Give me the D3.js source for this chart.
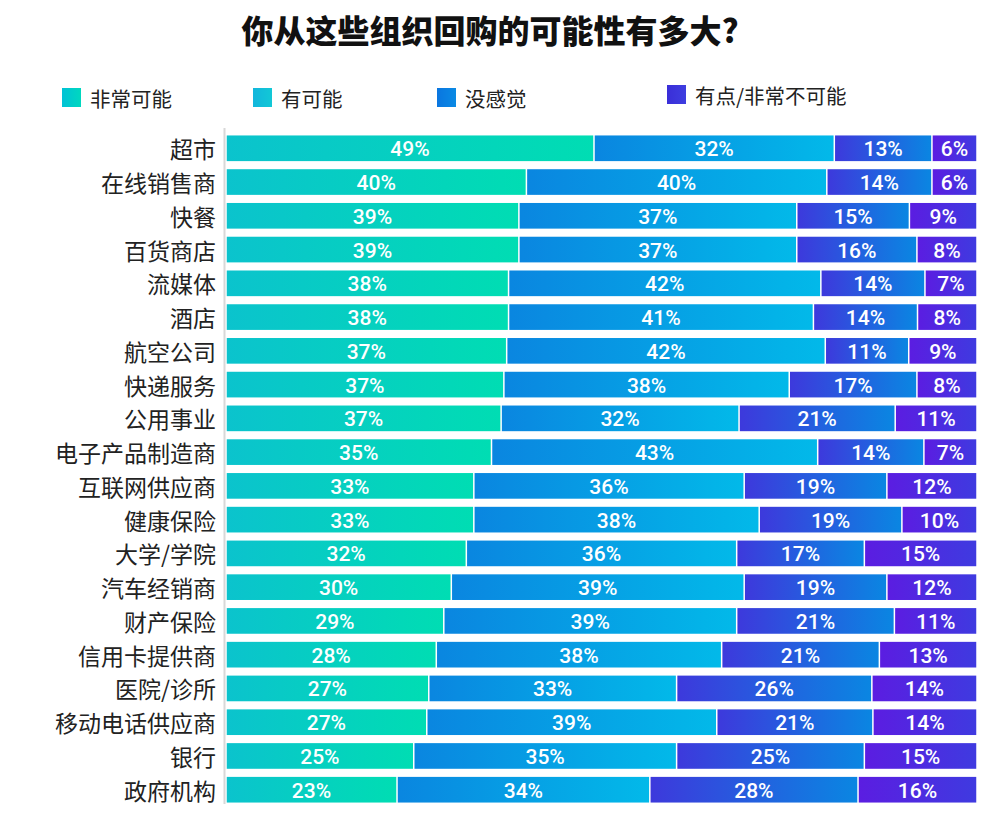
<!DOCTYPE html>
<html>
<head>
<meta charset="utf-8">
<script src="https://cdn.jsdelivr.net/npm/d3@7"></script>
<style>
  html, body { margin: 0; padding: 0; background: #fff; }
  svg { display: block; }
</style>
</head>
<body>
<svg id="chart" width="1000" height="828"></svg>
<script>
const title = "你从这些组织回购的可能性有多大?";
const seriesNames = ["非常可能", "有可能", "没感觉", "有点/非常不可能"];
const categories = ["超市","在线销售商","快餐","百货商店","流媒体","酒店","航空公司","快递服务","公用事业","电子产品制造商","互联网供应商","健康保险","大学/学院","汽车经销商","财产保险","信用卡提供商","医院/诊所","移动电话供应商","银行","政府机构"];
const veryLikely   = [49,40,39,39,38,38,37,37,37,35,33,33,32,30,29,28,27,27,25,23];
const likely       = [32,40,37,37,42,41,42,38,32,43,36,38,36,39,39,38,33,39,35,34];
const neutral      = [13,14,15,16,14,14,11,17,21,14,19,19,17,19,21,21,26,21,25,28];
const unlikely     = [6,6,9,8,7,8,9,8,11,7,12,10,15,12,11,13,14,14,15,16];

const gradStops = [["#0bc3cd","#00ddb3"],["#0a86e0","#02b9e9"],["#3d39dc","#0a86e2"],["#5b1de1","#3f3ae0"]];
const legendStops = [["#00c2d6","#00d8bf"],["#12b6dc","#12c8d6"],["#0a76e0","#0a8ae4"],["#3a2ed8","#3e3ee0"]];

const data = categories.map((c, i) => ({
  cat: c, s0: veryLikely[i], s1: likely[i], s2: neutral[i], s3: unlikely[i]
}));
const keys = ["s0","s1","s2","s3"];
const stacked = d3.stack().keys(keys).offset(d3.stackOffsetExpand)(data);

const svg = d3.select("#chart");
const defs = svg.append("defs");
gradStops.forEach((s, i) => {
  const g = defs.append("linearGradient").attr("id", "g" + i).attr("x1", 0).attr("x2", 1).attr("y1", 0).attr("y2", 0);
  g.append("stop").attr("offset", "0%").attr("stop-color", s[0]);
  g.append("stop").attr("offset", "100%").attr("stop-color", s[1]);
});
legendStops.forEach((s, i) => {
  const g = defs.append("linearGradient").attr("id", "lg" + i).attr("x1", 0).attr("x2", 1).attr("y1", 0).attr("y2", 0);
  g.append("stop").attr("offset", "0%").attr("stop-color", s[0]);
  g.append("stop").attr("offset", "100%").attr("stop-color", s[1]);
});

const x = d3.scaleLinear().domain([0, 1]).range([226, 977]);
const y = d3.scaleBand().domain(categories).range([131.4, 806.6]).paddingInner(0.24).paddingOuter(0.12);

// title
svg.append("text").attr("x", 490).attr("y", 29)
  .attr("text-anchor", "middle").attr("dominant-baseline", "central")
  .style("font-family", "'Noto Sans CJK SC', sans-serif").style("font-weight", 900)
  .style("font-size", "32px").style("fill", "#111").text(title);

// legend
const legendX = [62, 253, 437, 667];
const legendY = [88, 88, 88, 85];
const lg = svg.append("g");
seriesNames.forEach((n, i) => {
  lg.append("rect").attr("x", legendX[i]).attr("y", legendY[i]).attr("width", 19).attr("height", 19)
    .attr("fill", `url(#lg${i})`);
  lg.append("text").attr("x", legendX[i] + 28).attr("y", legendY[i] + 10)
    .attr("dominant-baseline", "central")
    .style("font-family", "'Noto Sans CJK SC', sans-serif").style("font-size", "20.5px")
    .style("fill", "#222").text(n);
});

// axis line
svg.append("line").attr("x1", 224.5).attr("x2", 224.5).attr("y1", 128).attr("y2", 804)
  .attr("stroke", "#d8d8d8").attr("stroke-width", 2);

// bars
const layers = svg.append("g").selectAll("g").data(stacked).join("g")
  .attr("fill", (d, i) => `url(#g${i})`);
layers.selectAll("rect").data(d => d).join("rect")
  .attr("x", d => x(d[0]) + 0.75)
  .attr("y", d => y(d.data.cat))
  .attr("width", d => Math.max(0, x(d[1]) - x(d[0]) - 1.5))
  .attr("height", y.bandwidth());

// value labels
const lab = svg.append("g");
stacked.forEach((layer, li) => {
  layer.forEach(d => {
    lab.append("text")
      .attr("x", (x(d[0]) + x(d[1])) / 2)
      .attr("y", y(d.data.cat) + y.bandwidth() / 2 + 1)
      .attr("text-anchor", "middle").attr("dominant-baseline", "central")
      .style("font-family", "Roboto, sans-serif").style("font-weight", 500)
      .style("font-size", "21px").style("fill", "#fff")
      .text(d.data[keys[li]] + "%");
  });
});

// category labels
svg.append("g").selectAll("text").data(categories).join("text")
  .attr("x", 216).attr("y", d => y(d) + y.bandwidth() / 2)
  .attr("text-anchor", "end").attr("dominant-baseline", "central")
  .style("font-family", "'Noto Sans CJK SC', sans-serif").style("font-size", "23px")
  .style("fill", "#222").text(d => d);
</script>
</body>
</html>
